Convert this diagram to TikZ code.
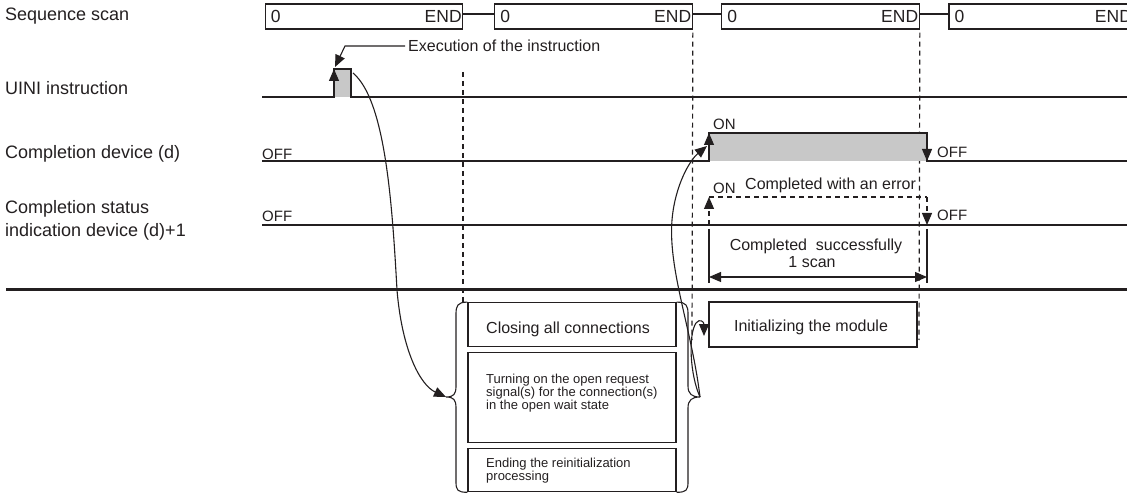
\documentclass[tikz,border=0pt]{standalone}
\usepackage{fontspec}
\setmainfont{Liberation Sans}
\usetikzlibrary{arrows.meta}
\definecolor{ink}{HTML}{231F20}
\definecolor{pulsegray}{HTML}{C8C8C8}

\begin{document}
\begin{tikzpicture}[x=1pt,y=-1pt,
  lbl/.style={font=\fontsize{18}{23}\selectfont,text=ink,inner sep=0pt,align=left},
  txt/.style={font=\fontsize{16}{18}\selectfont,text=ink,inner sep=0pt},
  lvl/.style={font=\fontsize{15}{17}\selectfont,text=ink,inner sep=0pt,anchor=base west},
  small/.style={font=\fontsize{13}{12}\selectfont,text=ink,inner sep=0pt,align=left},
  scanbox/.style={draw=ink,line width=1.2pt,minimum width=197.5pt,minimum height=25pt,inner sep=0pt},
  scantxt/.style={font=\fontsize{17.5}{20}\selectfont,text=ink,inner sep=0pt},
  procbox/.style={draw=ink,line width=1.2pt,minimum width=208pt,inner sep=0pt},
  sig/.style={draw=ink,line width=1.2pt},
  guide/.style={draw=ink,line width=1.2pt,dash pattern=on 5pt off 4pt},
  arr/.style={draw=ink,line width=1.1pt,-{Triangle[length=12pt,width=10pt]}},
  dimarr/.style={draw=ink,line width=1.1pt,{Triangle[length=12pt,width=10pt]}-{Triangle[length=12pt,width=10pt]}},
]
\useasboundingbox (0,0) rectangle (1127,494);
\clip (0,0) rectangle (1127,494);

% sequence scan
\node[scanbox] (scanA) at (364,16.5) {};
\node[scanbox] (scanB) at (593.5,16.5) {};
\node[scanbox] (scanC) at (820.5,16.5) {};
\node[scanbox,minimum width=184pt] (scanD) at (1041,16.5) {};
\node[scantxt,anchor=west,xshift=6pt] (zeroA) at (scanA.west) {0};
\node[scantxt,anchor=east,xshift=-1.5pt] (endA) at (scanA.east) {END};
\node[scantxt,anchor=west,xshift=6pt] (zeroB) at (scanB.west) {0};
\node[scantxt,anchor=east,xshift=-1.5pt] (endB) at (scanB.east) {END};
\node[scantxt,anchor=west,xshift=6pt] (zeroC) at (scanC.west) {0};
\node[scantxt,anchor=east,xshift=-1.5pt] (endC) at (scanC.east) {END};
\node[scantxt,anchor=west,xshift=6pt] (zeroD) at (scanD.west) {0};
\node[scantxt,anchor=east,xshift=-1.5pt] (endD) at (scanD.east) {END};
\draw[sig] ([yshift=2.5pt]scanA.east) -- ([yshift=2.5pt]scanB.west);
\draw[sig] ([yshift=2.5pt]scanB.east) -- ([yshift=2.5pt]scanC.west);
\draw[sig] ([yshift=2.5pt]scanC.east) -- ([yshift=2.5pt]scanD.west);

% scan boundaries
\coordinate (guideA0) at (463,72);
\coordinate (guideA1) at (463,302);
\coordinate (guideB1) at (692,340);
\coordinate (guideC1) at (919,340);
\draw[guide] (guideA0) -- (guideA1);
\draw[guide] ([yshift=-3pt]scanB.south east) -- (guideB1);
\draw[guide] ([yshift=-3pt]scanC.south east) -- (guideC1);

% signal names
\node[lbl,anchor=base west] (lblSeq) at (5,21) {Sequence scan};
\node[lbl,anchor=base west] (lblUini) at (5,95) {UINI instruction};
\node[lbl,anchor=base west] (lblDone) at (5,159) {Completion device (d)};
\node[lbl,anchor=west] (lblStat) at (5,220.5) {Completion status\\indication device (d)+1};

% UINI instruction
\coordinate (uiniL) at (262,97);
\coordinate (uiniA) at (334,97);
\coordinate (uiniB) at (334,69);
\coordinate (uiniC) at (351,69);
\coordinate (uiniD) at (351,97);
\coordinate (uiniR) at (1127,97);
\fill[pulsegray] (uiniA) rectangle (uiniC);
\draw[sig] (uiniL) -- (uiniA) -- (uiniB) -- (uiniC) -- (uiniD) -- (uiniR);
\draw[arr] (uiniA) -- (uiniB);

\node[txt,anchor=base west,inner xsep=3pt] (execTxt) at (405,51.7) {Execution of the instruction};
\coordinate (execBend) at (345,0);
\coordinate (execTip) at (335,67);
\draw[arr] (execTxt.west) -- (execTxt.west -| execBend) -- (execTip);

% completion device (d)
\coordinate (doneL) at (262,161);
\coordinate (doneA) at (709,161);
\coordinate (doneB) at (709,133);
\coordinate (doneC) at (927,133);
\coordinate (doneD) at (927,161);
\coordinate (doneR) at (1127,161);
\fill[pulsegray] (doneA) rectangle (doneC);
\draw[sig] (doneL) -- (doneA) -- (doneB) -- (doneC) -- (doneD) -- (doneR);
\draw[arr] (doneA) -- (doneB);
\draw[arr] (doneC) -- (doneD);
\node[lvl] (offDoneL) at (262,159.3) {OFF};
\node[lvl] (onDone) at (713,130) {ON};
\node[lvl] (offDone) at (937,157.7) {OFF};

% completion status (d)+1
\coordinate (statL) at (262,225);
\coordinate (statA) at (709,225);
\coordinate (statB) at (709,197);
\coordinate (statC) at (927,197);
\coordinate (statD) at (927,225);
\coordinate (statR) at (1127,225);
\draw[sig] (statL) -- (statR);
\draw[guide] (statB) -- (statC);
\draw[guide,arr] (statA) -- (statB);
\draw[guide,arr] (statC) -- (statD);
\node[lvl] (offStatL) at (262,221.7) {OFF};
\node[lvl] (onStat) at (713,194) {ON};
\node[txt,anchor=base west] (errTxt) at (745,190) {Completed with an error};
\node[lvl] (offStat) at (937,220.7) {OFF};

% one scan
\coordinate (dimL0) at (709,229);
\coordinate (dimL1) at (709,283);
\coordinate (dimR0) at (927,229);
\coordinate (dimR1) at (927,283);
\coordinate (dimA) at (709,277);
\coordinate (dimB) at (927,277);
\draw[sig,line width=1.1pt] (dimL0) -- (dimL1);
\draw[sig,line width=1.1pt] (dimR0) -- (dimR1);
\draw[dimarr] (dimA) -- (dimB);
\node[txt,anchor=base] (okTxt) at (816,250.7) {Completed\ \ successfully};
\node[txt,anchor=base] (scanTxt) at (812,268) {1 scan};

\coordinate (sepL) at (6,289.5);
\coordinate (sepR) at (1127,289.5);
\draw[ink,line width=2.6pt] (sepL) -- (sepR);

% processing
\node[procbox,minimum height=44pt] (closeBox) at (572,324.7) {};
\node[procbox,minimum height=90pt] (openBox) at (572,397.7) {};
\node[procbox,minimum height=43.4pt] (endBox) at (572,470) {};
\node[txt,anchor=base west] (closeTxt) at (486,334) {Closing all connections};
\node[small,anchor=north west] (openTxt) at (486,374) {Turning on the open request\\signal(s) for the connection(s)\\in the open wait state};
\node[small,anchor=north west] (endTxt) at (486,457.5) {Ending the reinitialization\\processing};

\node[procbox,minimum height=45pt] (initBox) at (813,324.5) {};
\node[txt,anchor=base] (initTxt) at (811,331.7) {Initializing the module};

\coordinate (lbTip) at (446,397);
\coordinate (rbTip) at (700,397);
\draw[sig,line width=1.1pt] (closeBox.north west) .. controls +(-10,0) and +(0,-8) .. (456,314)
  -- (456,386) .. controls +(0,8) and +(8,0) .. (lbTip)
  .. controls +(8,0) and +(0,-8) .. (456,408)
  -- (456,482) .. controls +(0,8) and +(-10,0) .. (endBox.south west);
\draw[sig,line width=1.1pt] (closeBox.north east) .. controls +(10,0) and +(0,-8) .. (688,314)
  -- (688,386) .. controls +(0,8) and +(-8,0) .. (rbTip)
  .. controls +(-8,0) and +(0,-8) .. (688,408)
  -- (688,482) .. controls +(0,8) and +(10,0) .. (endBox.south east);

% flow of the processing
\coordinate (uiniOut) at (353,73);
\coordinate (doneIn) at (707,146);
\coordinate (initIn) at (704,336);
\draw[arr] (uiniOut) .. controls (385,100) and (392,200) .. (397,290)
  .. controls (402,350) and (420,385) .. (lbTip);
\draw[arr] (rbTip) .. controls (692,330) and (668,270) .. (672,220)
  .. controls (675,185) and (690,160) .. (doneIn);
\draw[arr] (rbTip) .. controls (690,375) and (688,335) .. (696,323)
  .. controls (700,318) and (704,322) .. (initIn);

\end{tikzpicture}
\end{document}
